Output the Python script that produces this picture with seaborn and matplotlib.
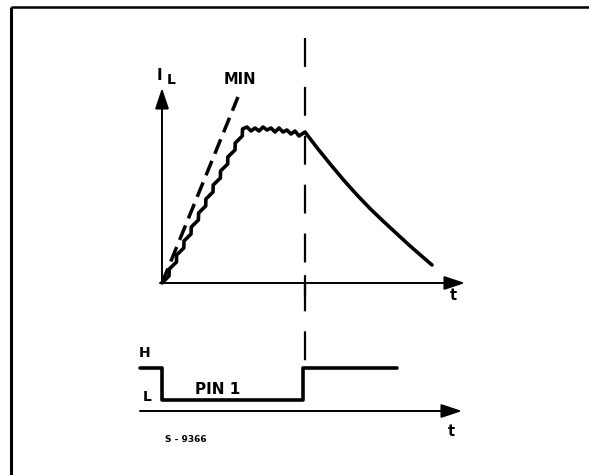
import matplotlib
matplotlib.use('Agg')
from matplotlib import pyplot as plt
import seaborn as sns
import pandas as pd

"""
# Data (diagram units, origin top-left, y grows downward)
"""
# load current ramp with ripple, from origin up to the plateau
RAMP_T = [162, 169, 169.3, 176.5, 176.6, 183.8, 184, 191, 191.3, 198.4,
          198.6, 205.7, 205.9, 213, 213.2, 220.4, 220.5, 227.7, 227.8, 235,
          235.2, 242.3, 242.5]
RAMP_I = [283, 276, 269, 262, 255, 248, 241, 234, 227, 220, 213, 206, 199,
          192, 185, 178, 171, 164, 157, 150, 143, 136, 129]
# plateau ripple
PLAT_T = [242.5, 247, 251, 255, 259, 263, 267, 271, 275, 279, 283, 287, 291,
          295, 299, 305]
PLAT_I = [129, 127, 131, 128, 131, 127, 130, 128, 132, 128, 132, 130, 134,
          131, 136, 132]
# decay after pin 1 goes high
DECAY_T = [305, 318, 331, 344, 357, 370, 383, 396, 409, 421, 432]
DECAY_I = [132, 149, 165, 180.5, 195, 208.5, 221, 233, 245, 255.5, 265]
# MIN slope (dashed)
MIN_T = [162, 238]
MIN_I = [283, 97]
# PIN 1 logic level
PIN_T = [140, 162, 162, 303, 303, 397]
PIN_L = [368, 368, 400, 400, 368, 368]

T_SWITCH = 305

sns.set_style('white')
plt.rcParams['font.family'] = ['DejaVu Sans']

fig = plt.figure(figsize=(5.89, 4.75), dpi=100)
ax = fig.add_axes([0, 0, 1, 1])
ax.set_xlim(0, 589)
ax.set_ylim(475, 0)
ax.axis('off')

# frame (top and left only)
ax.plot([11, 589], [7, 7], color='black', lw=1.8, solid_capstyle='butt')
ax.plot([11, 11], [7, 475], color='black', lw=2.2, solid_capstyle='butt')

# axes with arrows
arrow = dict(arrowstyle='-|>,head_length=0.9,head_width=0.3', lw=1.4,
             color='black', shrinkA=0, shrinkB=0, mutation_scale=14)
ax.annotate('', xy=(162, 88), xytext=(162, 283), arrowprops=arrow)
ax.annotate('', xy=(465, 283), xytext=(160, 283), arrowprops=arrow)
ax.annotate('', xy=(462, 411), xytext=(140, 411), arrowprops=arrow)

# switching instant
ax.plot([T_SWITCH, T_SWITCH], [38, 366], color='black', lw=1.6,
        linestyle=(0, (13, 9)))
ax.plot([T_SWITCH, T_SWITCH], [276, 297], color='black', lw=1.6)

# curves
sns.lineplot(x=MIN_T, y=MIN_I, sort=False, estimator=None, color='black',
             lw=2.5, linestyle=(0, (4.5, 2.2)), ax=ax)
curve = pd.DataFrame({'t': RAMP_T + PLAT_T + DECAY_T,
                      'i': RAMP_I + PLAT_I + DECAY_I})
sns.lineplot(data=curve, x='t', y='i', sort=False, estimator=None,
             color='black', lw=2.6, solid_joinstyle='round', ax=ax)
sns.lineplot(x=PIN_T, y=PIN_L, sort=False, estimator=None, color='black',
             lw=2.6, ax=ax)

# labels
txt = dict(color='black', fontweight='bold', ha='center', va='center')
ax.text(159, 76, 'I', fontsize=11, **txt)
ax.text(171, 80, 'L', fontsize=10, **txt)
ax.text(240, 80, 'MIN', fontsize=10.5, **txt)
ax.text(453, 296, 't', fontsize=10.5, **txt)
ax.text(145, 353, 'H', fontsize=10, **txt)
ax.text(147, 397, 'L', fontsize=10, **txt)
ax.text(218, 389, 'PIN 1', fontsize=11, **txt)
ax.text(451, 432, 't', fontsize=10.5, **txt)
ax.text(186, 440, 'S - 9366', fontsize=6.5, **txt)

fig.savefig('out.png', dpi=100)
